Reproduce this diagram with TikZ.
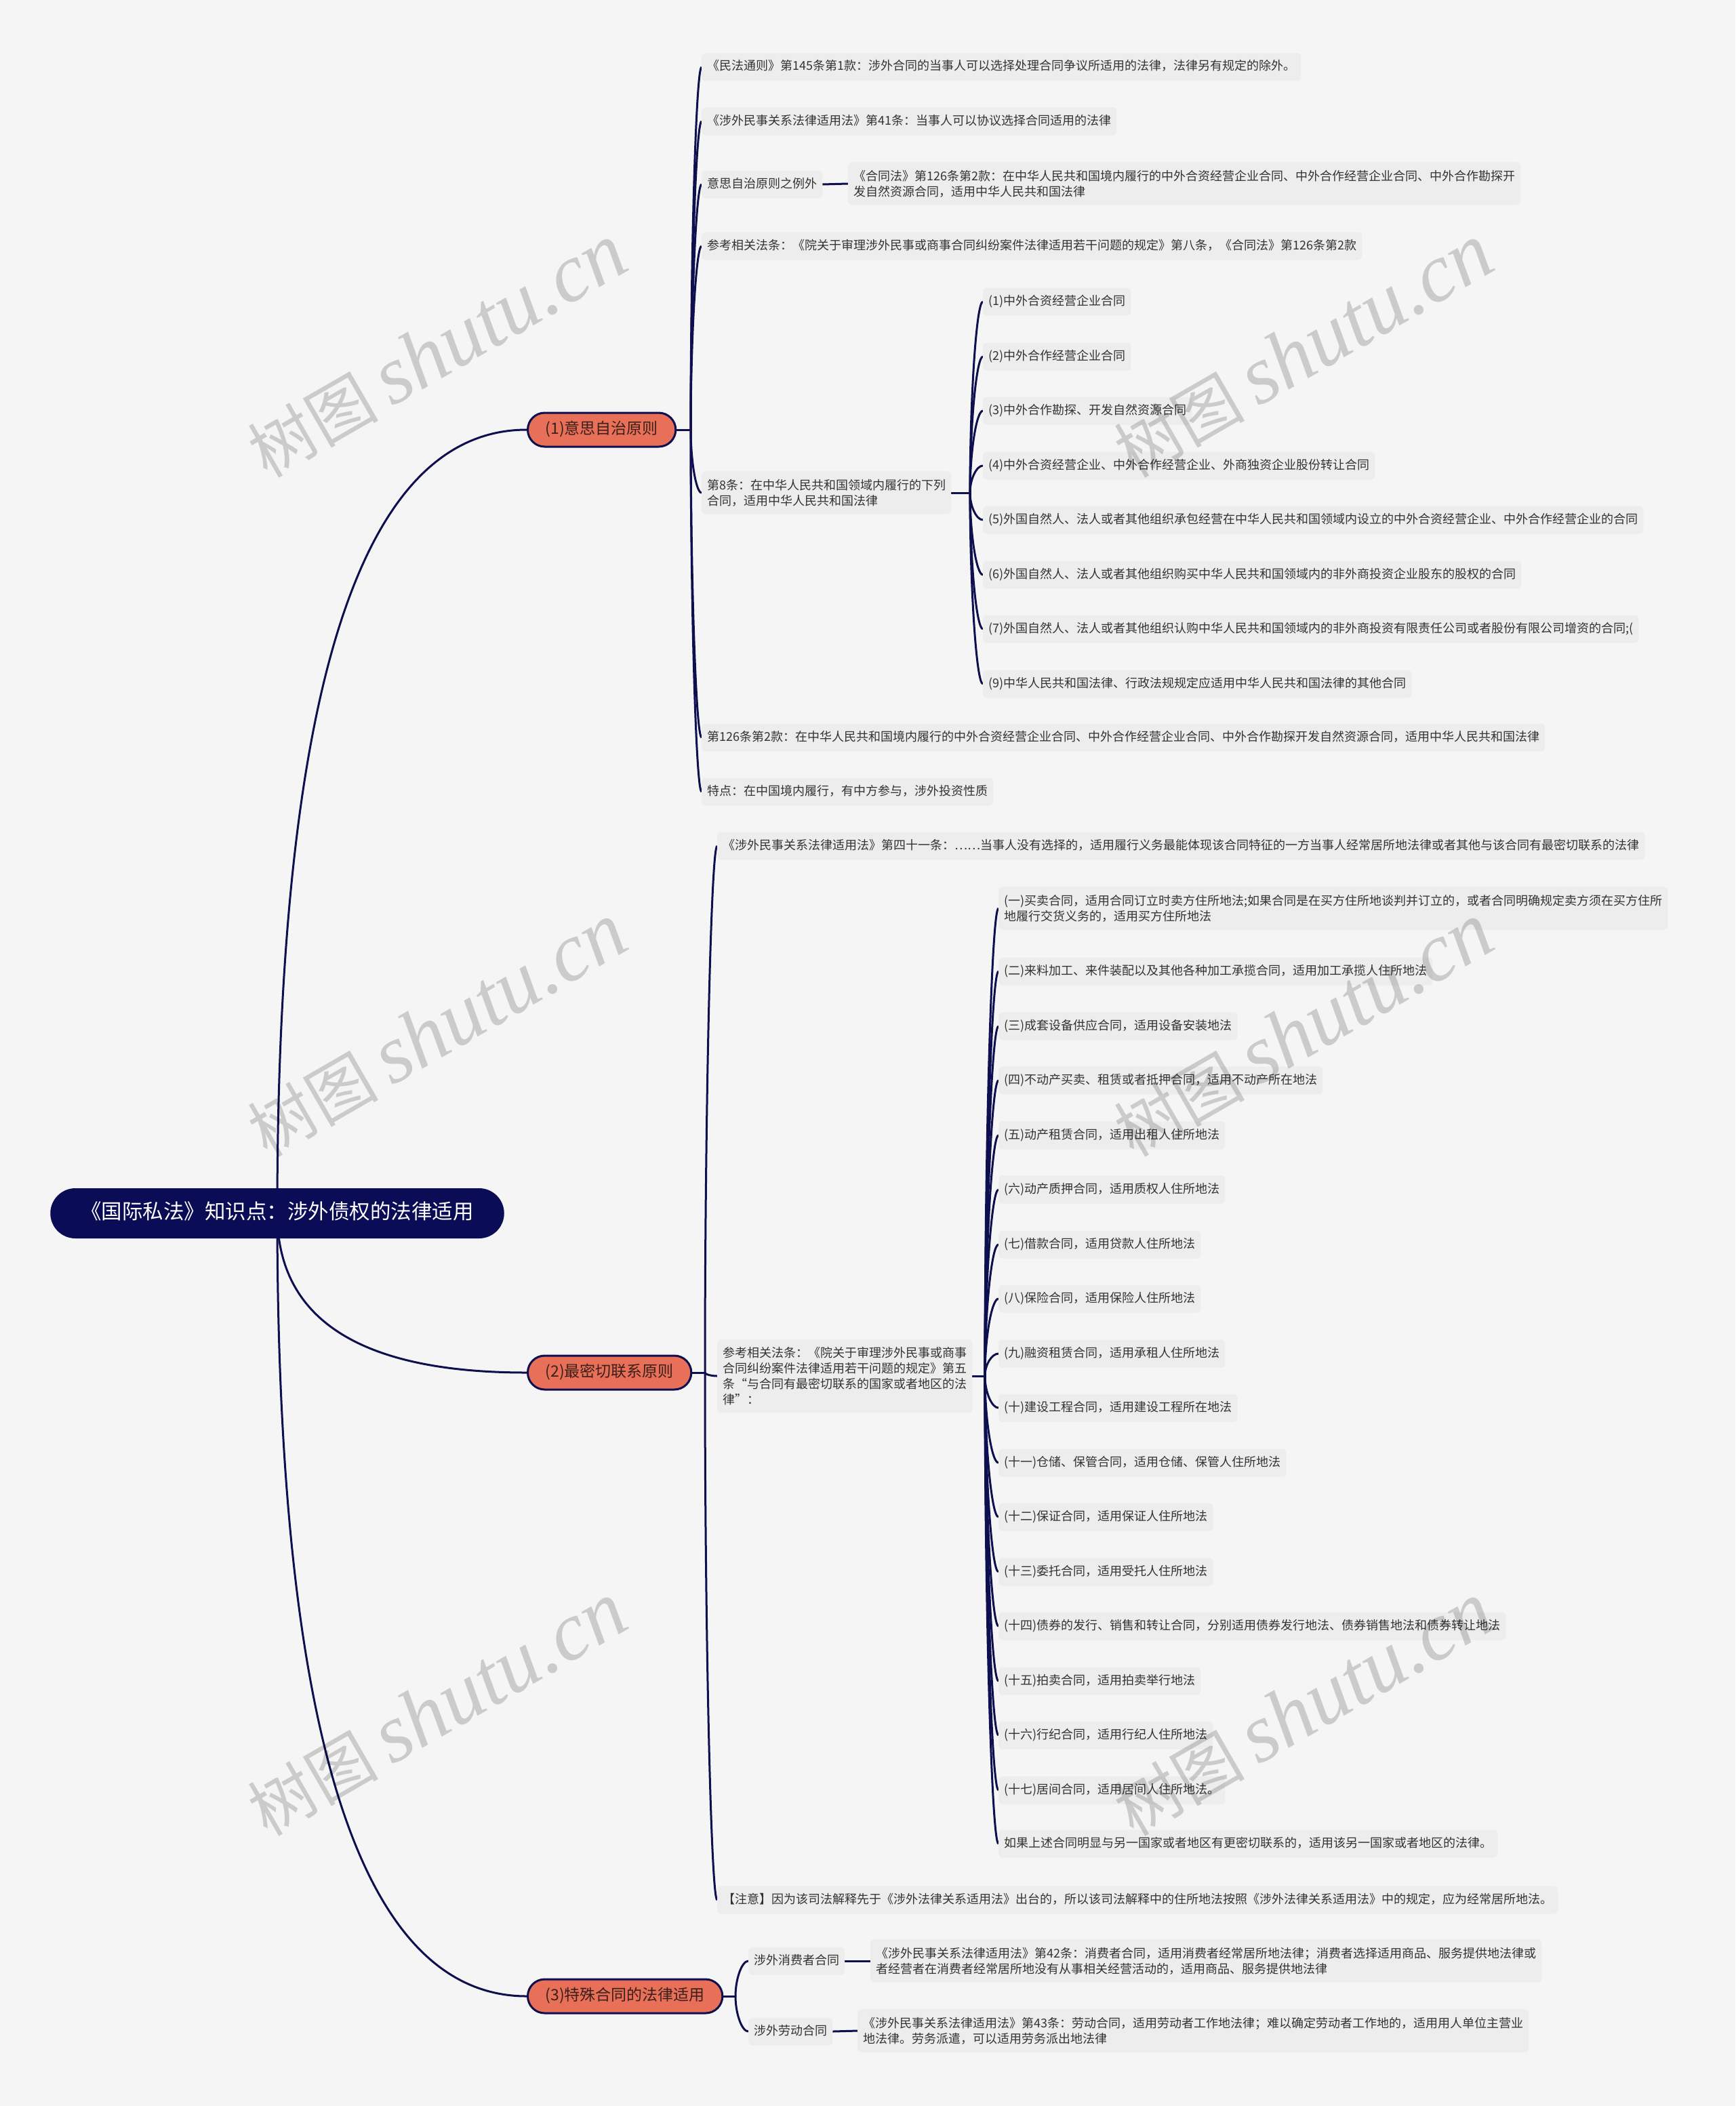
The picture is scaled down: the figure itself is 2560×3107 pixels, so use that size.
\documentclass[tikz,border=0pt]{standalone}
\usepackage{fontspec}
\setmainfont{Noto Sans CJK SC}
\newfontfamily\wmlatin{Liberation Serif}
\usetikzlibrary{calc}
\definecolor{bgc}{HTML}{F5F5F5}
\definecolor{leafc}{HTML}{EDEDED}
\definecolor{navy}{HTML}{0D0F4E}
\definecolor{rootc}{HTML}{0A0C55}
\definecolor{coral}{HTML}{E86F58}
\definecolor{txt}{HTML}{333333}
\definecolor{btxt}{HTML}{3A1F1A}
\pgfdeclarelayer{bg}
\pgfsetlayers{bg,main}
\begin{document}
\begin{tikzpicture}[x=1pt,y=1pt,
  leaf/.style={fill=leafc, rounded corners=6pt, anchor=west, inner xsep=8pt, inner ysep=11.5pt, text=txt, font=\fontsize{18}{23}\selectfont, text height=14pt, text depth=4pt},
  leafm/.style={fill=leafc, rounded corners=6pt, anchor=west, align=left, inner xsep=8pt, inner ysep=11.5pt, text=txt, font=\fontsize{18}{23}\selectfont},
  branch/.style={fill=coral, draw=navy, line width=3pt, rounded corners=25pt, anchor=west, inner xsep=26pt, inner ysep=14pt, text=btxt, font=\fontsize{23}{28}\selectfont, text height=17pt, text depth=5pt},
  rootnode/.style={fill=rootc, rounded corners=37pt, inner xsep=45pt, inner ysep=22pt, text=white, font=\fontsize{30.5}{36}\selectfont, text height=23pt, text depth=7pt},
  mainline/.style={draw=navy, line width=3pt},
  conn/.style={draw=navy, line width=3pt},
  rootconn/.style={to path={let \p1=(\tikztostart), \p2=(\tikztotarget) in .. controls (\x1,{\y1+0.667*(\y2-\y1)}) and ({\x2-0.667*(\x2-\x1)},\y2) .. (\tikztotarget)}},
  hook/.style={to path={let \p1=(\tikztostart), \p2=(\tikztotarget) in .. controls (\x1,{0.5*(\y1)+0.5*(\y2)}) and ({0.5*(\x1)+0.5*(\x2)},\y2) .. (\tikztotarget)}},
  wm/.style={text=black, text opacity=0.17, rotate=30, inner sep=0pt}
]
\begin{pgfonlayer}{bg}
\fill[bgc] (0,0) rectangle (2560,-3107);
\end{pgfonlayer}
\useasboundingbox (0,0) rectangle (2560,-3107);

% root and branches
\node[rootnode] (R) at (409,-1790) {《国际私法》知识点：涉外债权的法律适用};
\node[branch] (B1) at (777,-634) {(1)意思自治原则};
\node[branch] (B2) at (777,-2025) {(2)最密切联系原则};
\node[branch] (B3) at (777,-2945) {(3)特殊合同的法律适用};

\coordinate (J1) at (1019,-634);
\coordinate (J2) at (1040,-2025);
\coordinate (J3) at (1085,-2945);
\coordinate (J5) at (1431,-727);
\coordinate (Jb) at (1453,-2030);

% branch 1
\node[leaf] (a1) at (1035,-99) {《民法通则》第145条第1款：涉外合同的当事人可以选择处理合同争议所适用的法律，法律另有规定的除外。};
\node[leaf] (a2) at (1035,-179) {《涉外民事关系法律适用法》第41条：当事人可以协议选择合同适用的法律};
\node[leaf] (a3) at (1035,-272) {意思自治原则之例外};
\node[leafm] (a3c) at (1251,-271) {《合同法》第126条第2款：在中华人民共和国境内履行的中外合资经营企业合同、中外合作经营企业合同、中外合作勘探开\\发自然资源合同，适用中华人民共和国法律};
\node[leaf] (a4) at (1035,-363) {参考相关法条：《院关于审理涉外民事或商事合同纠纷案件法律适用若干问题的规定》第八条，《合同法》第126条第2款};
\node[leafm] (a5) at (1035,-727) {第8条：在中华人民共和国领域内履行的下列\\合同，适用中华人民共和国法律};
\node[leaf] (a6) at (1035,-1088) {第126条第2款：在中华人民共和国境内履行的中外合资经营企业合同、中外合作经营企业合同、中外合作勘探开发自然资源合同，适用中华人民共和国法律};
\node[leaf] (a7) at (1035,-1168) {特点：在中国境内履行，有中方参与，涉外投资性质};

\node[leaf] (k1) at (1450,-445) {(1)中外合资经营企业合同};
\node[leaf] (k2) at (1450,-526) {(2)中外合作经营企业合同};
\node[leaf] (k3) at (1450,-606) {(3)中外合作勘探、开发自然资源合同};
\node[leaf] (k4) at (1450,-687) {(4)中外合资经营企业、中外合作经营企业、外商独资企业股份转让合同};
\node[leaf] (k5) at (1450,-767) {(5)外国自然人、法人或者其他组织承包经营在中华人民共和国领域内设立的中外合资经营企业、中外合作经营企业的合同};
\node[leaf] (k6) at (1450,-848) {(6)外国自然人、法人或者其他组织购买中华人民共和国领域内的非外商投资企业股东的股权的合同};
\node[leaf] (k7) at (1450,-928) {(7)外国自然人、法人或者其他组织认购中华人民共和国领域内的非外商投资有限责任公司或者股份有限公司增资的合同;(};
\node[leaf] (k9) at (1450,-1009) {(9)中华人民共和国法律、行政法规规定应适用中华人民共和国法律的其他合同};

% branch 2
\node[leaf] (b1) at (1058,-1248) {《涉外民事关系法律适用法》第四十一条：……当事人没有选择的，适用履行义务最能体现该合同特征的一方当事人经常居所地法律或者其他与该合同有最密切联系的法律};
\node[leafm] (b2) at (1058,-2030) {参考相关法条：《院关于审理涉外民事或商事\\合同纠纷案件法律适用若干问题的规定》第五\\条“与合同有最密切联系的国家或者地区的法\\律”：};
\node[leaf] (b3) at (1058,-2803) {【注意】因为该司法解释先于《涉外法律关系适用法》出台的，所以该司法解释中的住所地法按照《涉外法律关系适用法》中的规定，应为经常居所地法。};

\node[leafm] (m1) at (1473,-1340) {(一)买卖合同，适用合同订立时卖方住所地法;如果合同是在买方住所地谈判并订立的，或者合同明确规定卖方须在买方住所\\地履行交货义务的，适用买方住所地法};
\node[leaf] (m2) at (1473,-1433) {(二)来料加工、来件装配以及其他各种加工承揽合同，适用加工承揽人住所地法};
\node[leaf] (m3) at (1473,-1514) {(三)成套设备供应合同，适用设备安装地法};
\node[leaf] (m4) at (1473,-1594) {(四)不动产买卖、租赁或者抵押合同，适用不动产所在地法};
\node[leaf] (m5) at (1473,-1675) {(五)动产租赁合同，适用出租人住所地法};
\node[leaf] (m6) at (1473,-1755) {(六)动产质押合同，适用质权人住所地法};
\node[leaf] (m7) at (1473,-1836) {(七)借款合同，适用贷款人住所地法};
\node[leaf] (m8) at (1473,-1916) {(八)保险合同，适用保险人住所地法};
\node[leaf] (m9) at (1473,-1997) {(九)融资租赁合同，适用承租人住所地法};
\node[leaf] (m10) at (1473,-2077) {(十)建设工程合同，适用建设工程所在地法};
\node[leaf] (m11) at (1473,-2158) {(十一)仓储、保管合同，适用仓储、保管人住所地法};
\node[leaf] (m12) at (1473,-2238) {(十二)保证合同，适用保证人住所地法};
\node[leaf] (m13) at (1473,-2319) {(十三)委托合同，适用受托人住所地法};
\node[leaf] (m14) at (1473,-2399) {(十四)债券的发行、销售和转让合同，分别适用债券发行地法、债券销售地法和债券转让地法};
\node[leaf] (m15) at (1473,-2480) {(十五)拍卖合同，适用拍卖举行地法};
\node[leaf] (m16) at (1473,-2560) {(十六)行纪合同，适用行纪人住所地法};
\node[leaf] (m17) at (1473,-2641) {(十七)居间合同，适用居间人住所地法。};
\node[leaf] (m18) at (1473,-2720) {如果上述合同明显与另一国家或者地区有更密切联系的，适用该另一国家或者地区的法律。};

% branch 3
\node[leaf] (c1) at (1104,-2893) {涉外消费者合同};
\node[leafm] (c1c) at (1284,-2893) {《涉外民事关系法律适用法》第42条：消费者合同，适用消费者经常居所地法律；消费者选择适用商品、服务提供地法律或\\者经营者在消费者经常居所地没有从事相关经营活动的，适用商品、服务提供地法律};
\node[leaf] (c2) at (1104,-2997) {涉外劳动合同};
\node[leafm] (c2c) at (1265,-2996) {《涉外民事关系法律适用法》第43条：劳动合同，适用劳动者工作地法律；难以确定劳动者工作地的，适用用人单位主营业\\地法律。劳务派遣，可以适用劳务派出地法律};

% connectors
\begin{pgfonlayer}{bg}
\draw[mainline] (R.center) to[rootconn] (B1.west);
\draw[mainline] (R.center) to[rootconn] (B2.west);
\draw[mainline] (R.center) to[rootconn] (B3.west);
\draw[conn] (B1.east) -- (J1);
\draw[conn] (B2.east) -- (J2);
\draw[conn] (B3.east) -- (J3);
\foreach \nd in {a1,a2,a3,a4,a5,a6,a7} \draw[conn] (J1) to[hook] (\nd.west);
\draw[conn] (a3.east) -- (a3c.west);
\draw[conn] (a5.east) -- (J5);
\foreach \nd in {k1,k2,k3,k4,k5,k6,k7,k9} \draw[conn] (J5) to[hook] (\nd.west);
\foreach \nd in {b1,b2,b3} \draw[conn] (J2) to[hook] (\nd.west);
\draw[conn] (b2.east) -- (Jb);
\foreach \nd in {m1,m2,m3,m4,m5,m6,m7,m8,m9,m10,m11,m12,m13,m14,m15,m16,m17,m18} \draw[conn] (Jb) to[hook] (\nd.west);
\foreach \nd in {c1,c2} \draw[conn] (J3) to[hook] (\nd.west);
\draw[conn] (c1.east) -- (c1c.west);
\draw[conn] (c2.east) -- (c2c.west);
\end{pgfonlayer}

% watermarks
\foreach \wx/\wy/\wn in {645/518/w1,1923/518/w2,645/1520/w3,1923/1520/w4,645/2522/w5,1923/2522/w6}
  \node[wm] (\wn) at (\wx,-\wy) {{\fontsize{96}{96}\selectfont 树图}\hspace{20pt}{\wmlatin\itshape\fontsize{122}{122}\selectfont shutu.cn}};
\end{tikzpicture}
\end{document}
